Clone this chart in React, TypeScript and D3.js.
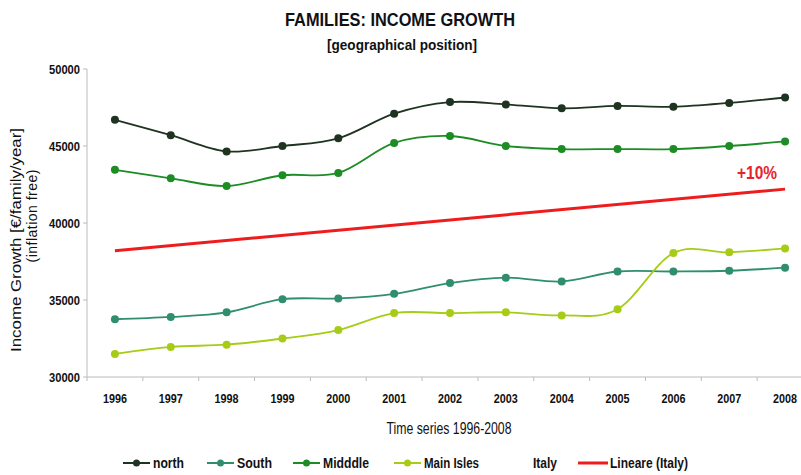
import React from "react";
import * as d3 from "d3";

const years = ["1996","1997","1998","1999","2000","2001","2002","2003","2004","2005","2006","2007","2008"];
const north = [46700,45700,44650,45000,45500,47100,47850,47700,47450,47600,47550,47800,48150];
const south = [33750,33900,34200,35050,35100,35400,36100,36450,36200,36850,36850,36900,37100];
const middle = [43450,42900,42400,43100,43250,45200,45650,45000,44800,44800,44800,45000,45300];
const mainIsles = [31500,31950,32100,32500,33050,34150,34150,34200,34000,34400,38050,38100,38350];
const italyTrendEnds = [38200, 42200];
const yTicks = [30000,35000,40000,45000,50000];

const series = [
  { name: "north", values: north, color: "#1e3320" },
  { name: "South", values: south, color: "#2f8f6c" },
  { name: "Midddle", values: middle, color: "#1c8c24" },
  { name: "Main Isles", values: mainIsles, color: "#a6cc16" },
];

const FONT = "'Liberation Sans', Arial, sans-serif";

type TProps = { x: number; y: number; w: number; size: number; bold?: boolean; anchor?: string; fill?: string; children: React.ReactNode };
function NT({ x, y, w, size, bold = true, anchor = "start", fill = "#111", children }: TProps) {
  return (
    <text x={x} y={y} textAnchor={anchor as any} fontFamily={FONT} fontWeight={bold ? "bold" : "normal"} fontSize={size} fill={fill}
      textLength={w} lengthAdjust="spacingAndGlyphs">{children}</text>
  );
}

export default function App() {
  const W = 801, H = 475;
  const x = d3.scaleBand().domain(years).range([87, 813]);
  const cx = (yr: string) => (x(yr) as number) + x.bandwidth() / 2;
  const y = d3.scaleLinear().domain([30000, 50000]).range([377, 69]);
  const line = d3.line<number>()
    .x((_, i) => cx(years[i]))
    .y((v) => y(v))
    .curve(d3.curveCardinal.tension(0));

  const trendX1 = cx(years[0]), trendX2 = cx(years[years.length - 1]);

  const legend = [
    { label: "north", color: "#1e3320", x0: 123, w: 31 },
    { label: "South", color: "#2f8f6c", x0: 207, w: 35 },
    { label: "Midddle", color: "#1c8c24", x0: 293, w: 46 },
    { label: "Main Isles", color: "#a6cc16", x0: 394, w: 55 },
  ];
  const ly = 463;

  return (
    <svg width={W} height={H} style={{ position: "absolute", left: 0, top: 0, background: "#fff" }}>
      <rect width={W} height={H} fill="#fff" />
      <NT x={400} y={26} w={230} size={19} anchor="middle">FAMILIES: INCOME GROWTH</NT>
      <NT x={402} y={50} w={150} size={15} anchor="middle">[geographical position]</NT>

      {/* y axis */}
      <line x1={87} x2={87} y1={y(50000)} y2={y(30000)} stroke="#bbb" />
      {yTicks.map((t) => (
        <g key={t}>
          <line x1={83} x2={87} y1={y(t)} y2={y(t)} stroke="#bbb" />
          <NT x={80} y={y(t) + 4.5} w={31} size={13} anchor="end">{t}</NT>
        </g>
      ))}
      {/* x axis */}
      <line x1={87} x2={813} y1={377} y2={377} stroke="#bbb" />
      {years.map((yr) => (
        <g key={yr}>
          <line x1={x(yr) as number} x2={x(yr) as number} y1={377} y2={381} stroke="#bbb" />
          <NT x={cx(yr)} y={403} w={24} size={13} anchor="middle">{yr}</NT>
        </g>
      ))}
      <NT x={449} y={434} w={125} size={16} bold={false} anchor="middle">Time series 1996-2008</NT>

      <text transform="translate(21,240) rotate(-90)" textAnchor="middle" fontFamily={FONT} fontSize={14} fill="#111"
        textLength={224} lengthAdjust="spacingAndGlyphs">Income Growth  [€/family/year]</text>
      <text transform="translate(37,216) rotate(-90)" textAnchor="middle" fontFamily={FONT} fontSize={14} fill="#111"
        textLength={93} lengthAdjust="spacing">(inflation free)</text>

      {/* trend */}
      <line x1={trendX1} x2={trendX2} y1={y(italyTrendEnds[0])} y2={y(italyTrendEnds[1])} stroke="#ee1c1c" strokeWidth={3} />
      <NT x={757} y={179} w={40} size={19} anchor="middle" fill="#e8242a">+10%</NT>

      {series.map((s) => (
        <g key={s.name}>
          <path d={line(s.values) as string} fill="none" stroke={s.color} strokeWidth={1.8} />
          {s.values.map((v, i) => (
            <circle key={i} cx={cx(years[i])} cy={y(v)} r={4} fill={s.color} />
          ))}
        </g>
      ))}

      {/* legend */}
      {legend.map((l) => (
        <g key={l.label}>
          <line x1={l.x0} x2={l.x0 + 27} y1={ly} y2={ly} stroke={l.color} strokeWidth={2} />
          <circle cx={l.x0 + 13.5} cy={ly} r={3.5} fill={l.color} />
          <NT x={l.x0 + 30} y={ly + 5} w={l.w} size={14}>{l.label}</NT>
        </g>
      ))}
      <NT x={533} y={ly + 5} w={24} size={14}>Italy</NT>
      <line x1={578} x2={608} y1={ly} y2={ly} stroke="#ee1c1c" strokeWidth={3} />
      <NT x={610} y={ly + 5} w={78} size={14}>Lineare (Italy)</NT>
    </svg>
  );
}
